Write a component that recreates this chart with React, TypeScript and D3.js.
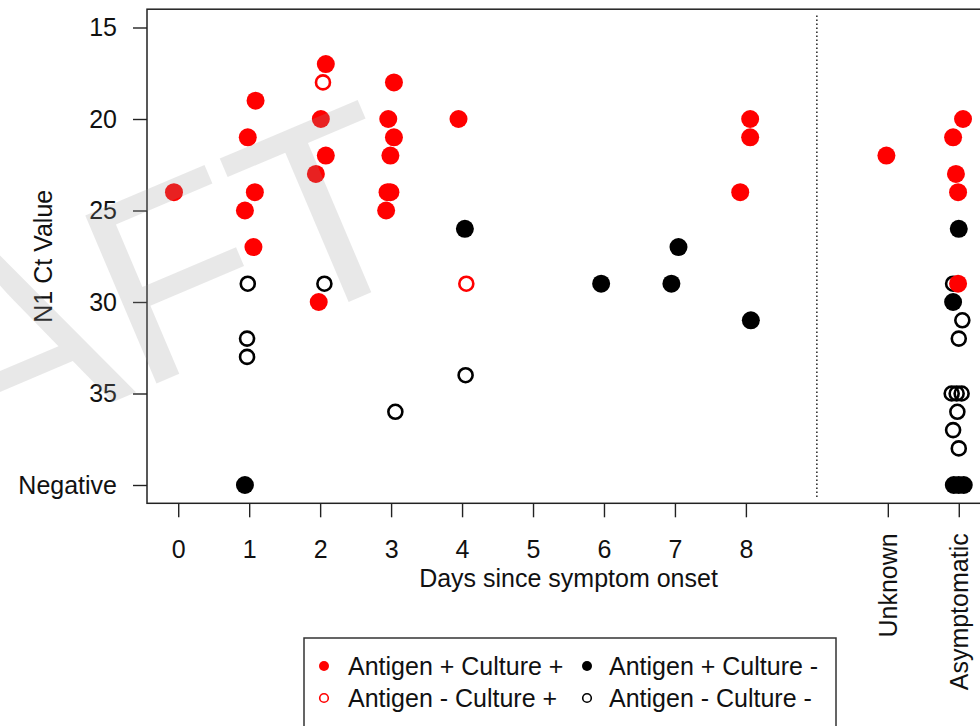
import * as d3 from 'd3';
import { useEffect, useRef } from 'react';

// x positions: days since onset 0-8, then two extra groups
const dayTicks = [0, 1, 2, 3, 4, 5, 6, 7, 8];
const groupLabels = ['Unknown', 'Asymptomatic'];
const groupPositions = [10, 11];

// y axis: Ct values, 40 stands for a negative result
const ctTicks = [15, 20, 25, 30, 35, 40];
const ctTickLabels = ['15', '20', '25', '30', '35', 'Negative'];

// [position (jittered), N1 Ct]
const antigenPosCulturePos: [number, number][] = [
  [-0.06, 24],
  [1.09, 19], [0.98, 21], [1.08, 24], [0.94, 25], [1.06, 27],
  [2.08, 17], [2.01, 20], [2.08, 22], [1.94, 23], [1.98, 30],
  [3.04, 18], [2.96, 20], [3.04, 21], [2.99, 22], [2.95, 24], [2.99, 24], [2.93, 25],
  [3.95, 20],
  [8.06, 20], [8.06, 21], [7.92, 24],
  [9.98, 22],
  [11.06, 20], [10.92, 21], [10.96, 23], [10.99, 24], [10.99, 29],
];

const antigenPosCultureNeg: [number, number][] = [
  [0.94, 40], [4.04, 26], [5.96, 29], [7.05, 27], [6.95, 29], [8.07, 31],
  [11.0, 26], [10.92, 30], [10.93, 40], [11.0, 40], [11.07, 40],
];

const antigenNegCulturePos: [number, number][] = [
  [2.04, 18], [4.06, 29],
];

const antigenNegCultureNeg: [number, number][] = [
  [0.98, 29], [0.97, 32], [0.97, 33], [2.06, 29], [3.06, 36], [4.05, 34],
  [10.92, 29], [11.05, 31], [11.0, 32], [10.9, 35], [10.97, 35], [11.04, 35],
  [10.98, 36], [10.92, 37], [11.0, 38],
];

const legendLabels = [
  'Antigen + Culture +',
  'Antigen + Culture -',
  'Antigen - Culture +',
  'Antigen - Culture -',
];

const App = () => {
  const ref = useRef<SVGSVGElement | null>(null);

  useEffect(() => {
    const svg = d3.select(ref.current);
    svg.selectAll('*').remove();
    const font = '"Liberation Sans", Arial, sans-serif';
    const fs = 25;

    const x = d3.scaleLinear().domain([-0.44, 11.44]).range([147, 990]);
    const y = d3.scaleLinear().domain([14, 41]).range([9.2, 503.3]);
    const [x0, x1] = x.range();
    const [y0, y1] = y.range();

    // plot box
    svg
      .append('rect')
      .attr('x', x0)
      .attr('y', y0)
      .attr('width', x1 - x0)
      .attr('height', y1 - y0)
      .attr('fill', 'none')
      .attr('stroke', '#222')
      .attr('stroke-width', 1.5);

    // y axis
    const yAxis = svg
      .append('g')
      .attr('transform', `translate(${x0},0)`)
      .call(
        d3
          .axisLeft(y)
          .tickValues(ctTicks)
          .tickFormat((_d, i) => ctTickLabels[i])
          .tickSize(14)
          .tickPadding(16)
      )
      .attr('font-size', fs)
      .attr('font-family', font);
    yAxis.select('.domain').remove();
    yAxis.selectAll('line').attr('stroke', '#222').attr('stroke-width', 1.4);
    yAxis.selectAll('text').attr('fill', '#111');

    // x axis, days
    const xAxis = svg
      .append('g')
      .attr('transform', `translate(0,${y1})`)
      .call(d3.axisBottom(x).tickValues(dayTicks).tickSize(14).tickPadding(23))
      .attr('font-size', fs)
      .attr('font-family', font);
    xAxis.select('.domain').remove();
    xAxis.selectAll('line').attr('stroke', '#222').attr('stroke-width', 1.4);
    xAxis.selectAll('text').attr('fill', '#111');

    // x axis, groups (vertical labels)
    const gAxis = svg
      .append('g')
      .attr('transform', `translate(0,${y1})`)
      .call(
        d3
          .axisBottom(x)
          .tickValues(groupPositions)
          .tickFormat((_d, i) => groupLabels[i])
          .tickSize(14)
      )
      .attr('font-size', fs)
      .attr('font-family', font);
    gAxis.select('.domain').remove();
    gAxis.selectAll('line').attr('stroke', '#222').attr('stroke-width', 1.4);
    gAxis
      .selectAll('text')
      .attr('fill', '#111')
      .attr('transform', 'rotate(-90)')
      .attr('x', -30)
      .attr('y', 0)
      .attr('dy', '0.35em')
      .attr('text-anchor', 'end');

    // axis titles
    svg
      .append('text')
      .attr('x', (x0 + x1) / 2)
      .attr('y', 587)
      .attr('text-anchor', 'middle')
      .attr('font-size', fs)
      .attr('font-family', font)
      .attr('fill', '#111')
      .text('Days since symptom onset');

    svg
      .append('text')
      .attr('transform', `translate(52,${(y0 + y1) / 2}) rotate(-90)`)
      .attr('text-anchor', 'middle')
      .attr('font-size', fs)
      .attr('font-family', font)
      .attr('fill', '#111')
      .text('N1 Ct Value');

    // separator between days and other groups
    svg
      .append('line')
      .attr('x1', x(9))
      .attr('x2', x(9))
      .attr('y1', y(14.35))
      .attr('y2', y(40.7))
      .attr('stroke', '#222')
      .attr('stroke-width', 1.5)
      .attr('stroke-dasharray', '1.5,2.5');

    // points
    const drawOpen = (data: [number, number][], color: string) =>
      svg
        .append('g')
        .selectAll('circle')
        .data(data)
        .join('circle')
        .attr('cx', (d) => x(d[0]))
        .attr('cy', (d) => y(d[1]))
        .attr('r', 7)
        .attr('fill', 'none')
        .attr('stroke', color)
        .attr('stroke-width', 2.6);

    const drawFilled = (data: [number, number][], color: string) =>
      svg
        .append('g')
        .selectAll('circle')
        .data(data)
        .join('circle')
        .attr('cx', (d) => x(d[0]))
        .attr('cy', (d) => y(d[1]))
        .attr('r', 9)
        .attr('fill', color);

    drawOpen(antigenNegCultureNeg, '#000');
    drawFilled(antigenPosCultureNeg, '#000');
    drawOpen(antigenNegCulturePos, '#ff0000');
    drawFilled(antigenPosCulturePos, '#ff0000');

    // legend
    const legend = svg.append('g').attr('font-family', font).attr('font-size', fs);
    legend
      .append('rect')
      .attr('x', 304)
      .attr('y', 638)
      .attr('width', 532)
      .attr('height', 110)
      .attr('fill', 'none')
      .attr('stroke', '#333')
      .attr('stroke-width', 1.5);

    const legendItems = [
      { col: 0, row: 0, color: '#ff0000', filled: true },
      { col: 1, row: 0, color: '#000', filled: true },
      { col: 0, row: 1, color: '#ff0000', filled: false },
      { col: 1, row: 1, color: '#000', filled: false },
    ];
    const markerX = [324, 587];
    const textX = [348, 609];
    const rowY = [666, 698];

    legendItems.forEach((item, i) => {
      legend
        .append('circle')
        .attr('cx', markerX[item.col])
        .attr('cy', rowY[item.row])
        .attr('r', item.filled ? 5 : 4.3)
        .attr('fill', item.filled ? item.color : 'none')
        .attr('stroke', item.filled ? 'none' : item.color)
        .attr('stroke-width', 1.6);
      legend
        .append('text')
        .attr('x', textX[item.col])
        .attr('y', rowY[item.row] + 9)
        .attr('fill', '#111')
        .text(legendLabels[i]);
    });

    // DRAFT watermark over everything
    svg
      .append('text')
      .attr('transform', 'translate(28,438) rotate(-23)')
      .attr('text-anchor', 'middle')
      .attr('font-family', font)
      .attr('font-size', 265)
      .attr('fill', '#969696')
      .attr('fill-opacity', 0.22)
      .text('DRAFT');
  }, []);

  return (
    <svg
      ref={ref}
      width={980}
      height={726}
      style={{ position: 'absolute', left: 0, top: 0, background: '#fff' }}
    />
  );
};

export default App;
